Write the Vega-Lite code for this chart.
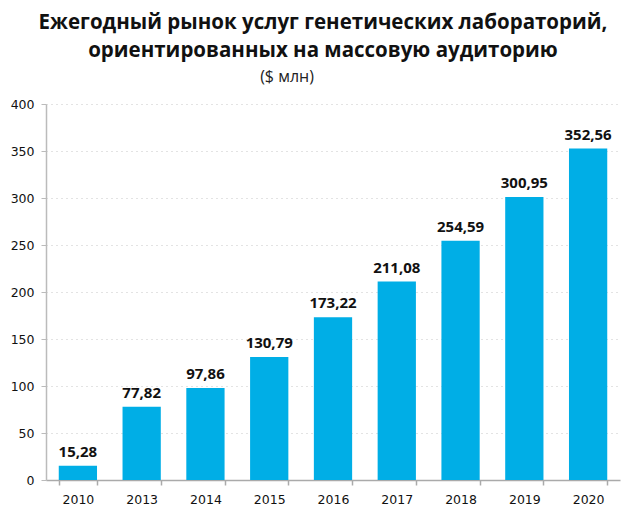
{
  "$schema": "https://vega.github.io/schema/vega-lite/v6.json",
  "width": 631,
  "height": 516,
  "autosize": {"type": "fit", "contains": "padding"},
  "padding": {"left": 10, "right": 11, "top": 12, "bottom": 10},
  "background": "white",
  "config": {
    "locale": {"number": {"decimal": ",", "thousands": " ", "grouping": [3], "currency": ["", " $"]}},
    "view": {"stroke": null},
    "font": "Open Sans"
  },
  "title": {
    "text": ["Ежегодный рынок услуг генетических лабораторий,", "ориентированных на массовую аудиторию"],
    "subtitle": "($ млн)\u2800\u2800\u2800\u2800\u2800\u2800",
    "anchor": "middle",
    "frame": "group",
    "font": "Open Sans",
    "fontSize": 20.5,
    "fontWeight": "bold",
    "color": "#111111",
    "lineHeight": 28,
    "subtitleFont": "Open Sans",
    "subtitleFontSize": 16,
    "subtitleColor": "#222222",
    "subtitlePadding": 8,
    "offset": 13,
    "dx": -10
  },
  "data": {
    "values": [
      {"year": "2010", "value": 15.28},
      {"year": "2013", "value": 77.82},
      {"year": "2014", "value": 97.86},
      {"year": "2015", "value": 130.79},
      {"year": "2016", "value": 173.22},
      {"year": "2017", "value": 211.08},
      {"year": "2018", "value": 254.59},
      {"year": "2019", "value": 300.95},
      {"year": "2020", "value": 352.56}
    ]
  },
  "encoding": {
    "x": {
      "field": "year",
      "type": "nominal",
      "scale": {"paddingInner": 0.4, "paddingOuter": 0.2},
      "axis": {
        "title": null,
        "labelAngle": 0,
        "labelFont": "DejaVu Sans",
        "labelFontSize": 12.5,
        "labelColor": "#111111",
        "labelPadding": 8,
        "domainColor": "#aaaaaa",
        "domainWidth": 1.5,
        "tickColor": "#aaaaaa",
        "tickWidth": 1.5,
        "tickBand": "extent",
        "tickSize": 5
      }
    },
    "y": {
      "field": "value",
      "type": "quantitative",
      "scale": {"domain": [0, 400]},
      "axis": {
        "title": null,
        "values": [0, 50, 100, 150, 200, 250, 300, 350, 400],
        "labelFont": "DejaVu Sans",
        "labelFontSize": 12.5,
        "labelColor": "#111111",
        "labelPadding": 7,
        "domainColor": "#bbbbbb",
        "domainWidth": 1.5,
        "tickColor": "#bbbbbb",
        "tickSize": 5,
        "grid": true,
        "gridColor": "#c8c8c8",
        "gridDash": [1, 4],
        "gridWidth": 1.2
      }
    }
  },
  "layer": [
    {"mark": {"type": "bar", "color": "#00AEE6"}},
    {
      "mark": {"type": "text", "baseline": "bottom", "dy": -6, "font": "Open Sans", "fontSize": 15, "fontWeight": "bold", "color": "#111111"},
      "encoding": {"text": {"field": "value", "type": "quantitative", "format": ".2f"}}
    }
  ]
}
